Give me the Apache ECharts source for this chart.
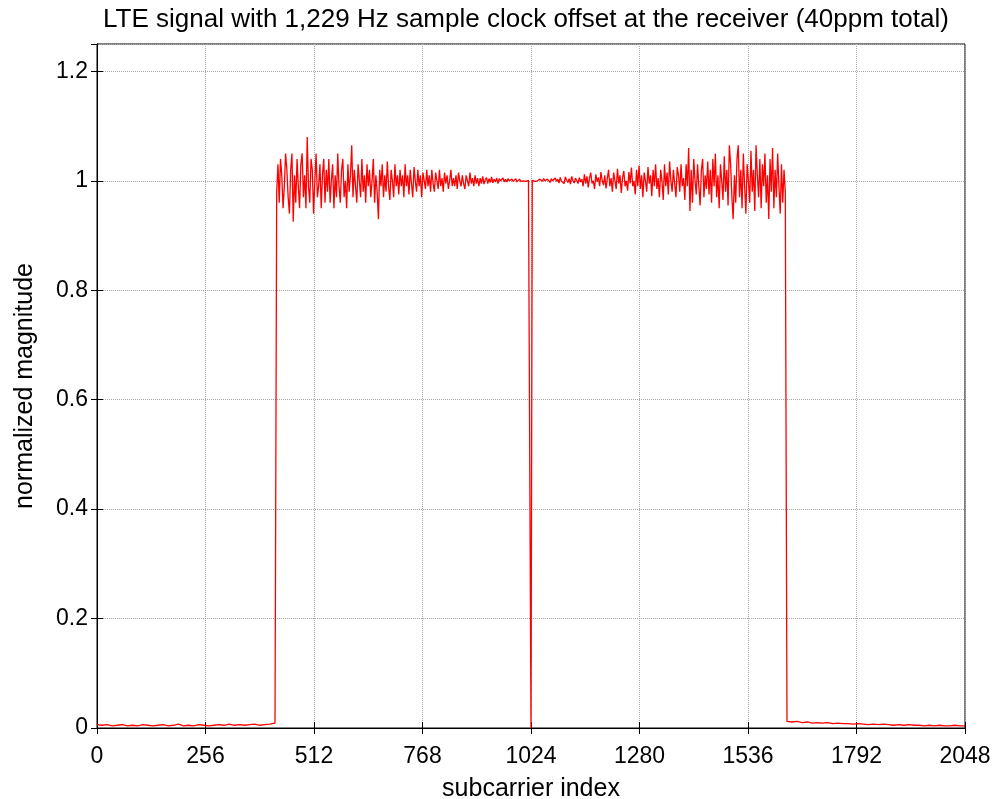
<!DOCTYPE html>
<html>
<head>
<meta charset="utf-8">
<script src="https://cdn.jsdelivr.net/npm/echarts@6/dist/echarts.min.js"></script>
<style>
  html, body { margin: 0; padding: 0; background: #fff; }
  #chart { width: 996px; height: 799px; }
</style>
</head>
<body>
<div id="chart"></div>
<script>
// axis ticks
var xTicks = [0, 256, 512, 768, 1024, 1280, 1536, 1792, 2048];
var yTicks = [0, 0.2, 0.4, 0.6, 0.8, 1, 1.2];

// guard band below the occupied subcarriers: index 0..420, every 12
var lowGuardStart = 0, lowGuardStep = 12;
var lowGuard = [0.006, 0.005, 0.006, 0.004, 0.005, 0.006, 0.004, 0.005, 0.004, 0.006, 0.005, 0.004,
  0.005, 0.006, 0.004, 0.005, 0.007, 0.004, 0.005, 0.004, 0.006, 0.005, 0.004, 0.005,
  0.006, 0.005, 0.007, 0.005, 0.006, 0.005, 0.006, 0.007, 0.005, 0.006, 0.007, 0.009];

// occupied subcarriers below DC: index 424..1021, every 3
var lowBandStart = 424, lowBandStep = 3;
var lowBand = [
  0.98, 1.03, 0.96, 1.04, 1.01, 0.95, 0.99, 1.05, 1.02, 0.97, 0.94, 1.02, 1.05, 0.925, 1.01, 0.96, 1.04, 0.99, 0.95, 1.03,
  1.05, 0.97, 1.01, 0.95, 1.08, 0.99, 0.96, 1.04, 1.02, 0.94, 1.00, 1.05, 0.97, 0.99, 1.03, 0.95, 1.01, 1.04, 0.96, 1.02,
  0.98, 1.04, 0.96, 1.00, 1.03, 0.95, 1.01, 0.97, 1.05, 0.99, 0.96, 1.02, 1.04, 0.97, 1.00, 0.95, 1.03, 0.98, 1.01, 1.065,
  0.97, 1.02, 0.99, 0.96, 1.03, 1.00, 0.97, 1.04, 0.98, 1.01, 0.96, 1.03, 0.99, 1.02, 0.97, 1.00, 1.04, 0.96, 1.01, 0.98,
  0.93, 1.02, 0.99, 1.03, 0.97, 1.01, 0.98, 1.035, 0.99, 0.965, 1.02, 1.00, 0.97, 1.03, 0.99, 1.01, 0.975, 1.02, 0.99, 1.01,
  0.97, 1.03, 0.99, 1.01, 0.975, 1.02, 0.995, 0.97, 1.025, 1.00, 0.98, 1.02, 0.99, 1.01, 0.97, 1.015, 1.00, 0.985, 1.02, 0.99,
  1.01, 0.98, 1.02, 0.995, 0.98, 1.015, 1.00, 0.985, 1.02, 0.99, 1.005, 0.98, 1.015, 0.995, 1.01, 0.985, 1.00, 1.02, 0.99, 1.005,
  0.99, 1.01, 0.985, 1.015, 1.00, 0.99, 1.01, 0.995, 0.985, 1.01, 1.00, 0.99, 1.015, 0.995, 1.005, 0.99, 1.01, 0.995, 1.005, 0.99,
  1.005, 0.995, 1.008, 0.994, 1.002, 1.006, 0.995, 1.004, 0.997, 1.007, 0.996, 1.003, 0.998, 1.005, 0.995, 1.004, 1.000, 0.997, 1.005, 0.998,
  1.003, 0.998, 1.004, 1.000, 0.997, 1.003, 0.999, 1.002, 1.004, 0.998, 1.001, 1.003, 0.999, 1.002, 1.000, 1.003, 0.999, 1.002, 1.001, 1.002];

// DC subcarrier
var dcIndex = 1024, dcValue = 0.0;

// occupied subcarriers above DC: index 1027..1624, every 3
var highBandStart = 1027, highBandStep = 3;
var highBand = [
  1.001, 1.003, 0.999, 1.002, 1.000, 0.998, 1.003, 1.001, 0.999, 1.004, 1.000, 0.998, 1.003, 1.001, 0.997, 1.004, 1.000, 0.998, 1.005, 0.999,
  1.003, 0.996, 1.006, 0.999, 1.002, 0.995, 1.007, 1.001, 0.997, 1.004, 0.994, 1.008, 1.000, 0.996, 1.005, 1.002, 0.995, 1.006, 0.998, 1.003,
  0.99, 1.012, 0.995, 1.008, 0.988, 1.005, 1.015, 0.995, 1.00, 0.985, 1.012, 0.998, 1.006, 0.99, 1.016, 1.00, 0.992, 1.01, 0.986, 1.004,
  1.02, 0.99, 1.005, 0.98, 1.015, 1.00, 0.985, 1.022, 0.995, 1.01, 0.978, 1.005, 1.018, 0.99, 1.00, 0.982, 1.016, 0.995, 1.024, 0.99,
  1.00, 0.975, 1.02, 0.99, 1.028, 0.985, 1.01, 0.97, 1.015, 1.00, 0.98, 1.025, 0.995, 1.01, 0.972, 1.02, 0.99, 1.03, 0.985, 1.005,
  0.97, 1.02, 1.00, 0.965, 1.03, 0.99, 1.015, 0.975, 1.035, 1.00, 0.98, 1.02, 0.995, 0.97, 1.025, 1.01, 0.98, 1.03, 0.99, 1.005,
  0.965, 1.03, 0.99, 1.06, 0.945, 1.02, 0.96, 1.04, 1.00, 0.975, 1.03, 0.99, 0.955, 1.02, 1.04, 0.97, 1.01, 0.985, 1.035, 0.975,
  1.02, 0.96, 1.04, 0.99, 1.05, 0.97, 1.01, 0.95, 1.03, 1.00, 0.965, 1.045, 0.98, 1.02, 0.955, 1.065, 1.03, 0.97, 0.93, 1.01,
  0.96, 1.04, 1.065, 0.97, 1.02, 0.95, 1.05, 0.99, 0.94, 1.03, 1.00, 0.96, 1.055, 0.98, 1.02, 0.945, 1.065, 1.01, 0.97, 1.04,
  0.95, 1.03, 0.99, 1.05, 0.96, 1.01, 0.93, 1.04, 0.98, 1.06, 0.95, 1.02, 0.97, 1.05, 0.99, 0.94, 1.03, 0.96, 1.02, 0.98];

// guard band above: index 1628..2048, every 12
var highGuardStart = 1628, highGuardStep = 12;
var highGuard = [0.012, 0.011, 0.012, 0.010, 0.011, 0.009, 0.010, 0.009, 0.010, 0.008, 0.009, 0.008,
  0.008, 0.007, 0.008, 0.007, 0.006, 0.007, 0.006, 0.007, 0.006, 0.005, 0.006, 0.005,
  0.006, 0.005, 0.005, 0.004, 0.005, 0.004, 0.005, 0.004, 0.004, 0.005, 0.004, 0.004];

function toPairs(start, step, vals) {
  return vals.map(function (v, i) { return [start + i * step, v]; });
}
var lineData = []
  .concat(toPairs(lowGuardStart, lowGuardStep, lowGuard))
  .concat(toPairs(lowBandStart, lowBandStep, lowBand))
  .concat([[dcIndex, dcValue]])
  .concat(toPairs(highBandStart, highBandStep, highBand))
  .concat(toPairs(highGuardStart, highGuardStep, highGuard));

var font = "'Liberation Sans', Arial, sans-serif";
var chart = echarts.init(document.getElementById("chart"));

var gridLine = { show: true, lineStyle: { color: "#a6a6a6", type: "dotted", width: 1 } };
var innerTick = { show: true, inside: true, length: 6, lineStyle: { color: "#000" } };

var option = {
  animation: false,
  backgroundColor: "#fff",
  title: {
    text: "LTE signal with 1,229 Hz sample clock offset at the receiver (40ppm total)",
    left: 98,
    top: 2,
    textStyle: { fontFamily: font, fontSize: 26, fontWeight: "normal", color: "#000" }
  },
  grid: {
    left: 97, right: 31, top: 44, bottom: 71,
    show: true, borderColor: "#000", borderWidth: 1,
    containLabel: false, outerBoundsMode: "none"
  },
  xAxis: [
    {
      type: "value", min: xTicks[0], max: xTicks[xTicks.length - 1], interval: xTicks[1] - xTicks[0],
      name: "subcarrier index", nameLocation: "middle", nameGap: 49,
      nameTextStyle: { fontFamily: font, fontSize: 25, color: "#000" },
      axisLine: { show: true, lineStyle: { color: "#000" } },
      axisTick: innerTick,
      axisLabel: { fontFamily: font, fontSize: 23, color: "#000", margin: 17,
        formatter: function (v) { return String(v); } },
      splitLine: gridLine
    },
    {
      type: "value", min: xTicks[0], max: xTicks[xTicks.length - 1], interval: xTicks[1] - xTicks[0], position: "top",
      axisLine: { show: true, lineStyle: { color: "#000" } },
      axisTick: innerTick,
      axisLabel: { show: false },
      splitLine: { show: false }
    }
  ],
  yAxis: [
    {
      type: "value", min: 0, max: 1.25, interval: yTicks[1] - yTicks[0],
      name: "normalized magnitude", nameLocation: "middle", nameGap: 59,
      nameTextStyle: { fontFamily: font, fontSize: 25, color: "#000" },
      axisLine: { show: true, lineStyle: { color: "#000" } },
      axisTick: innerTick,
      axisLabel: { fontFamily: font, fontSize: 23, color: "#000", margin: 9, showMaxLabel: false },
      splitLine: gridLine
    },
    {
      type: "value", min: 0, max: 1.25, interval: yTicks[1] - yTicks[0], position: "right",
      axisLine: { show: true, lineStyle: { color: "#000" } },
      axisTick: innerTick,
      axisLabel: { show: false },
      splitLine: { show: false }
    }
  ],
  series: [
    {
      type: "line",
      xAxisIndex: 0, yAxisIndex: 0,
      data: lineData,
      showSymbol: false,
      symbol: "none",
      lineStyle: { color: "#ff0000", width: 1.3 },
      z: 5
    }
  ]
};
chart.setOption(option);
</script>
</body>
</html>
